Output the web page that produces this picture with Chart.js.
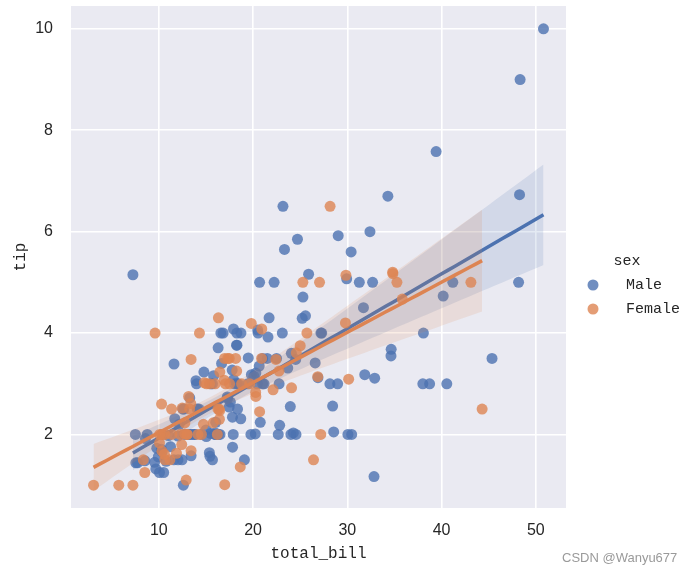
<!DOCTYPE html>
<html>
<head>
<meta charset="utf-8">
<script src="https://cdn.jsdelivr.net/npm/chart.js@4"></script>
<style>
  html, body { margin: 0; padding: 0; background: #fff; }
  canvas { display: block; }
</style>
</head>
<body>
<canvas id="tipsChart" width="692" height="576"></canvas>
<script>
// Données : jeu "tips" (total_bill, tip, sex)
const totalBill = [
  16.99, 10.34, 21.01, 23.68, 24.59, 25.29, 8.77, 26.88, 15.04, 14.78,
  10.27, 35.26, 15.42, 18.43, 14.83, 21.58, 10.33, 16.29, 16.97, 20.65,
  17.92, 20.29, 15.77, 39.42, 19.82, 17.81, 13.37, 12.69, 21.7, 19.65,
  9.55, 18.35, 15.06, 20.69, 17.78, 24.06, 16.31, 16.93, 18.69, 31.27,
  16.04, 17.46, 13.94, 9.68, 30.4, 18.29, 22.23, 32.4, 28.55, 18.04,
  12.54, 10.29, 34.81, 9.94, 25.56, 19.49, 38.01, 26.41, 11.24, 48.27,
  20.29, 13.81, 11.02, 18.29, 17.59, 20.08, 16.45, 3.07, 20.23, 15.01,
  12.02, 17.07, 26.86, 25.28, 14.73, 10.51, 17.92, 27.2, 22.76, 17.29,
  19.44, 16.66, 10.07, 32.68, 15.98, 34.83, 13.03, 18.28, 24.71, 21.16,
  28.97, 22.49, 5.75, 16.32, 22.75, 40.17, 27.28, 12.03, 21.01, 12.46,
  11.35, 15.38, 44.3, 22.42, 20.92, 15.36, 20.49, 25.21, 18.24, 14.31,
  14.0, 7.25, 38.07, 23.95, 25.71, 17.31, 29.93, 10.65, 12.43, 24.08,
  11.69, 13.42, 14.26, 15.95, 12.48, 29.8, 8.52, 14.52, 11.38, 22.82,
  19.08, 20.27, 11.17, 12.26, 18.26, 8.51, 10.33, 14.15, 16.0, 13.16,
  17.47, 34.3, 41.19, 27.05, 16.43, 8.35, 18.64, 11.87, 9.78, 7.51,
  14.07, 13.13, 17.26, 24.55, 19.77, 29.85, 48.17, 25.0, 13.39, 16.49,
  21.5, 12.66, 16.21, 13.81, 17.51, 24.52, 20.76, 31.71, 10.59, 10.63,
  50.81, 15.81, 7.25, 31.85, 16.82, 32.9, 17.89, 14.48, 9.6, 34.63,
  34.65, 23.33, 45.35, 23.17, 40.55, 20.69, 20.9, 30.46, 18.15, 23.1,
  15.69, 19.81, 28.44, 15.48, 16.58, 7.56, 10.34, 43.11, 13.0, 13.51,
  18.71, 12.74, 13.0, 16.4, 20.53, 16.47, 26.59, 38.73, 24.27, 12.76,
  30.06, 25.89, 48.33, 13.27, 28.17, 12.9, 28.15, 11.59, 7.74, 30.14,
  12.16, 13.42, 8.58, 15.98, 13.42, 16.27, 10.09, 20.45, 13.28, 22.12,
  24.01, 15.69, 11.61, 10.77, 15.53, 10.07, 12.6, 32.83, 35.83, 29.03,
  27.18, 22.67, 17.82, 18.78
];

const tipAmount = [
  1.01, 1.66, 3.5, 3.31, 3.61, 4.71, 2.0, 3.12, 1.96, 3.23,
  1.71, 5.0, 1.57, 3.0, 3.02, 3.92, 1.67, 3.71, 3.5, 3.35,
  4.08, 2.75, 2.23, 7.58, 3.18, 2.34, 2.0, 2.0, 4.3, 3.0,
  1.45, 2.5, 3.0, 2.45, 3.27, 3.6, 2.0, 3.07, 2.31, 5.0,
  2.24, 2.54, 3.06, 1.32, 5.6, 3.0, 5.0, 6.0, 2.05, 3.0,
  2.5, 2.6, 5.2, 1.56, 4.34, 3.51, 3.0, 1.5, 1.76, 6.73,
  3.21, 2.0, 1.98, 3.76, 2.64, 3.15, 2.47, 1.0, 2.01, 2.09,
  1.97, 3.0, 3.14, 5.0, 2.2, 1.25, 3.08, 4.0, 3.0, 2.71,
  3.0, 3.4, 1.83, 5.0, 2.03, 5.17, 2.0, 4.0, 5.85, 3.0,
  3.0, 3.5, 1.0, 4.3, 3.25, 4.73, 4.0, 1.5, 3.0, 1.5,
  2.5, 3.0, 2.5, 3.48, 4.08, 1.64, 4.06, 4.29, 3.76, 4.0,
  3.0, 1.0, 4.0, 2.55, 4.0, 3.5, 5.07, 1.5, 1.8, 2.92,
  2.31, 1.68, 2.5, 2.0, 2.52, 4.2, 1.48, 2.0, 2.0, 2.18,
  1.5, 2.83, 1.5, 2.0, 3.25, 1.25, 2.0, 2.0, 2.0, 2.75,
  3.5, 6.7, 5.0, 5.0, 2.3, 1.5, 1.36, 1.63, 1.73, 2.0,
  2.5, 2.0, 2.74, 2.0, 2.0, 5.14, 5.0, 3.75, 2.61, 2.0,
  3.5, 2.5, 2.0, 2.0, 3.0, 3.48, 2.24, 4.5, 1.61, 2.0,
  10.0, 3.16, 5.15, 3.18, 4.0, 3.11, 2.0, 2.0, 4.0, 3.55,
  3.68, 5.65, 3.5, 6.5, 3.0, 5.0, 3.5, 2.0, 3.5, 4.0,
  1.5, 4.19, 2.56, 2.02, 4.0, 1.44, 2.0, 5.0, 2.0, 2.0,
  4.0, 2.01, 2.0, 2.5, 4.0, 3.23, 3.41, 3.0, 2.03, 2.23,
  2.0, 5.16, 9.0, 2.5, 6.5, 1.1, 3.0, 1.5, 1.44, 3.09,
  2.2, 3.48, 1.92, 3.0, 1.58, 2.5, 2.0, 3.0, 2.72, 2.88,
  2.0, 3.0, 3.39, 1.47, 3.0, 1.25, 1.0, 1.17, 4.67, 5.92,
  2.0, 2.0, 1.75, 3.0
];

// M = Male, F = Female (une lettre par ligne du jeu de données)
const sexCodes = (
  'FMMMFMMMMM' + 'MFMMFMFMFM' + 'MFFMMMMMMF' + 'MMFFMMMFMM' + 'MMMMMMMMMM' +
  'MFFMMMMFMM' + 'MMMMMMFFMM' + 'MFFFFMMMMM' + 'MMFMMFMMMM' + 'MMFFFMMMMM' +
  'FFFFFMMMMF' + 'MFMMFFMFFF' + 'MFMMFFMFFM' + 'MFFFFFFFMF' + 'FMMFFFFFMM' +
  'MMMMMFMFFM' + 'MMFMFMMMFF' + 'MMMMMMMMFM' + 'MMMMMMFMFM' + 'MFMMMMMFFM' +
  'MFFFMFMMMF' + 'MMMFFFMMMF' + 'MFMFMFFMMF' + 'MMMMMMMMFM' + 'FMMF'
).split('');

const sexLevels = ['Male', 'Female'];
const sexKeys = ['M', 'F'];
const xTicks = [10, 20, 30, 40, 50];
const yTicks = [2, 4, 6, 8, 10];

// Palette seaborn "deep"
const palette = { M: [76, 114, 176], F: [221, 132, 82] };
const rgba = (c, a) => `rgba(${c[0]}, ${c[1]}, ${c[2]}, ${a})`;

// Régression linéaire + intervalle de confiance à 95 % (erreurs robustes, proche du bootstrap)
function fitGroup(key) {
  const xs = [], ys = [];
  totalBill.forEach((b, i) => {
    if (sexCodes[i] === key) { xs.push(b); ys.push(tipAmount[i]); }
  });
  const n = xs.length;
  const mx = xs.reduce((s, v) => s + v, 0) / n;
  const my = ys.reduce((s, v) => s + v, 0) / n;
  let sxx = 0, sxy = 0;
  xs.forEach((x, i) => { sxx += (x - mx) ** 2; sxy += (x - mx) * (ys[i] - my); });
  const slope = sxy / sxx;
  const intercept = my - slope * mx;

  // Sandwich HC : paramètres centrés (moyenne, pente)
  let m00 = 0, m01 = 0, m11 = 0;
  xs.forEach((x, i) => {
    const e2 = (ys[i] - intercept - slope * x) ** 2;
    const d = x - mx;
    m00 += e2; m01 += e2 * d; m11 += e2 * d * d;
  });
  const corr = n / (n - 2);
  const vMean = corr * m00 / (n * n);
  const cov = corr * m01 / (n * sxx);
  const vSlope = corr * m11 / (sxx * sxx);

  const df = n - 2, z = 1.959964;
  const t = z + (z ** 3 + z) / (4 * df);
  const xmin = Math.min(...xs), xmax = Math.max(...xs);
  const line = [], upper = [], lower = [];
  const steps = 60;
  for (let k = 0; k <= steps; k++) {
    const x = xmin + (xmax - xmin) * k / steps;
    const d = x - mx;
    const yhat = intercept + slope * x;
    const half = t * Math.sqrt(vMean + 2 * d * cov + d * d * vSlope);
    line.push({ x, y: yhat });
    upper.push({ x, y: yhat + half });
    lower.push({ x, y: yhat - half });
  }
  const points = xs.map((x, i) => ({ x, y: ys[i] }));
  return { points, line, upper, lower };
}

const datasets = [];
sexKeys.forEach((key, gi) => {
  const fit = fitGroup(key);
  const c = palette[key];
  const base = (1 - gi) * 4; // Male en dessous, Female au-dessus
  datasets.push({
    label: sexLevels[gi],
    data: fit.points,
    backgroundColor: rgba(c, 0.8),
    borderWidth: 0,
    pointRadius: 5.5,
    pointHoverRadius: 5.5,
    order: base + 4
  });
  datasets.push({
    type: 'line',
    label: sexLevels[gi] + ' CI+',
    data: fit.upper,
    borderWidth: 0,
    pointRadius: 0,
    fill: false,
    order: base + 3
  });
  datasets.push({
    type: 'line',
    label: sexLevels[gi] + ' CI-',
    data: fit.lower,
    borderWidth: 0,
    pointRadius: 0,
    backgroundColor: rgba(c, 0.15),
    fill: '-1',
    order: base + 3
  });
  datasets.push({
    type: 'line',
    label: sexLevels[gi] + ' fit',
    data: fit.line,
    borderColor: rgba(c, 1),
    borderWidth: 3.5,
    pointRadius: 0,
    fill: false,
    order: base + 2
  });
});

// Fond gris-bleu de la zone de tracé, légende et filigrane
const decorPlugin = {
  id: 'decor',
  beforeDraw(chart) {
    const { ctx, chartArea: a } = chart;
    ctx.save();
    ctx.fillStyle = '#EAEAF2';
    ctx.fillRect(a.left, a.top, a.right - a.left, a.bottom - a.top);
    ctx.restore();
  },
  afterDraw(chart) {
    const { ctx } = chart;
    ctx.save();
    ctx.fillStyle = '#262626';
    ctx.textBaseline = 'middle';
    ctx.font = '15px "Liberation Mono"';
    ctx.textAlign = 'center';
    ctx.fillText('sex', 627, 261);
    ctx.textAlign = 'left';
    sexKeys.forEach((key, i) => {
      const y = 285 + i * 24;
      ctx.fillStyle = rgba(palette[key], 0.8);
      ctx.beginPath();
      ctx.arc(593, y, 5.5, 0, Math.PI * 2);
      ctx.fill();
      ctx.fillStyle = '#262626';
      ctx.fillText(sexLevels[i], 626, y);
    });
    ctx.fillStyle = '#9a9a9a';
    ctx.font = '13px "Liberation Sans"';
    ctx.fillText('CSDN @Wanyu677', 562, 558);
    ctx.restore();
  }
};

const tickFont = { family: '"Liberation Sans", Arial, sans-serif', size: 16 };
const titleFont = { family: '"Liberation Mono", monospace', size: 16 };

new Chart(document.getElementById('tipsChart').getContext('2d'), {
  type: 'scatter',
  data: { datasets },
  options: {
    responsive: false,
    animation: false,
    events: [],
    layout: { padding: { top: 6, right: 126, bottom: 0, left: 0 } },
    plugins: {
      legend: { display: false },
      tooltip: { enabled: false }
    },
    scales: {
      x: {
        type: 'linear',
        min: 0.68,
        max: 53.2,
        afterBuildTicks: (scale) => { scale.ticks = xTicks.map(v => ({ value: v })); },
        afterFit: (scale) => {
          scale.height = 68;
          scale.paddingLeft = 0;
          scale.paddingRight = 0;
        },
        grid: { color: '#ffffff', lineWidth: 1.6, drawTicks: false },
        border: { display: false },
        ticks: { font: tickFont, color: '#262626', padding: 13 },
        title: {
          display: true,
          text: 'total_bill',
          font: titleFont,
          color: '#262626',
          padding: { top: 0, bottom: 13 }
        }
      },
      y: {
        type: 'linear',
        min: 0.55,
        max: 10.45,
        afterBuildTicks: (scale) => { scale.ticks = yTicks.map(v => ({ value: v })); },
        afterFit: (scale) => {
          scale.width = 71;
          scale.paddingTop = 0;
          scale.paddingBottom = 0;
        },
        grid: { color: '#ffffff', lineWidth: 1.6, drawTicks: false },
        border: { display: false },
        ticks: { font: tickFont, color: '#262626', padding: 18 },
        title: {
          display: true,
          text: 'tip',
          font: titleFont,
          color: '#262626',
          padding: { top: 11, bottom: 0 }
        }
      }
    }
  },
  plugins: [decorPlugin]
});
</script>
</body>
</html>
